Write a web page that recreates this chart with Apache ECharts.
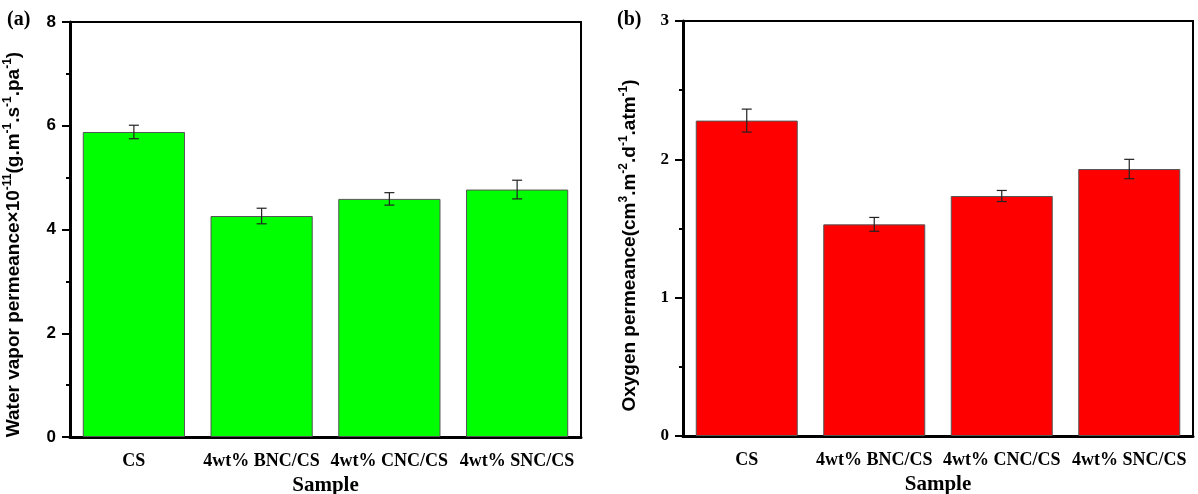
<!DOCTYPE html>
<html>
<head>
<meta charset="utf-8">
<script src="https://cdn.jsdelivr.net/npm/echarts@6/dist/echarts.min.js"></script>
<style>
  html,body{margin:0;padding:0;background:#fff;}
  #chart{width:1198px;height:494px;}
</style>
</head>
<body>
<div id="chart"></div>
<script>
  // samples + values
  var samples = ['CS', '4wt% BNC/CS', '4wt% CNC/CS', '4wt% SNC/CS']
  var wvpValues = [5.88, 4.26, 4.59, 4.77]
  var wvpErrors = [0.13, 0.15, 0.12, 0.18]
  var oxyValues = [2.28, 1.53, 1.735, 1.93]
  var oxyErrors = [0.083, 0.05, 0.04, 0.07]

  var sans = '"Liberation Sans", Arial, sans-serif'
  var serif = '"Liberation Serif", "Times New Roman", serif'

  var myChart = echarts.init(document.getElementById('chart'))

  function errBars(api) {
    var i = api.value(0)
    var lo = api.coord([i, api.value(1)])
    var hi = api.coord([i, api.value(2)])
    var cap = 5
    var st = {stroke: '#222', lineWidth: 1.2}
    return {
      type: 'group',
      children: [
        {type: 'line', shape: {x1: hi[0], y1: hi[1], x2: lo[0], y2: lo[1]}, style: st},
        {type: 'line', shape: {x1: hi[0] - cap, y1: hi[1], x2: hi[0] + cap, y2: hi[1]}, style: st},
        {type: 'line', shape: {x1: lo[0] - cap, y1: lo[1], x2: lo[0] + cap, y2: lo[1]}, style: st}
      ]
    }
  }

  function errData(vals, errs) {
    return vals.map(function (v, i) { return [i, v - errs[i], v + errs[i]] })
  }

  var supRich = {
    n: {fontFamily: sans, fontWeight: 'bold', fontSize: 19, lineHeight: 24, color: '#000'},
    s: {fontFamily: sans, fontWeight: 'bold', fontSize: 12, lineHeight: 24, verticalAlign: 'top', padding: [0, 0, 9, 0], color: '#000'}
  }

  function xAx(idx) {
    return {
      type: 'category', gridIndex: idx, data: samples,
      axisLine: {lineStyle: {color: '#000', width: 3}},
      axisTick: {show: false},
      axisLabel: {interval: 0, fontFamily: serif, fontWeight: 'bold', fontSize: 18, color: '#000', margin: 15},
      name: 'Sample', nameLocation: 'middle', nameGap: 38,
      nameTextStyle: {fontFamily: serif, fontWeight: 'bold', fontSize: 21, color: '#000'}
    }
  }

  var options = {
    backgroundColor: '#fff',
    animation: false,
    graphic: [
      {type: 'text', left: 7, top: 10, style: {text: '(a)', font: 'bold 20px ' + serif, fill: '#000'}},
      {type: 'text', left: 617, top: 10, style: {text: '(b)', font: 'bold 20px ' + serif, fill: '#000'}}
    ],
    grid: [
      {left: 70, top: 22, width: 511, height: 415, show: true, borderColor: '#000', borderWidth: 2, outerBoundsMode: 'none'},
      {left: 683, top: 21, width: 510, height: 415, show: true, borderColor: '#000', borderWidth: 2, outerBoundsMode: 'none'}
    ],
    xAxis: [xAx(0), xAx(1)],
    yAxis: [
      {
        type: 'value', gridIndex: 0, min: 0, max: 8, interval: 2,
        splitLine: {show: false},
        axisLine: {show: true, lineStyle: {color: '#000', width: 3}},
        axisTick: {show: true, length: 8, lineStyle: {color: '#000', width: 2}},
        minorTick: {show: true, splitNumber: 2, length: 4, lineStyle: {color: '#000', width: 2}},
        axisLabel: {fontFamily: sans, fontWeight: 'bold', fontSize: 17, color: '#000', margin: 14},
        name: '{n|Water vapor permeance×10}{s|-11}{n|(g.m}{s|-1}{n|.s}{s|-1}{n|.pa}{s|-1}{n|)}',
        nameLocation: 'middle', nameGap: 44,
        nameTextStyle: {rich: supRich, padding: [0, 30, 0, 0]}
      },
      {
        type: 'value', gridIndex: 1, min: 0, max: 3, interval: 1,
        splitLine: {show: false},
        axisLine: {show: true, lineStyle: {color: '#000', width: 3}},
        axisTick: {show: true, length: 8, lineStyle: {color: '#000', width: 2}},
        minorTick: {show: true, splitNumber: 2, length: 4, lineStyle: {color: '#000', width: 2}},
        axisLabel: {fontFamily: serif, fontWeight: 'bold', fontSize: 17, color: '#000', margin: 14},
        name: '{n|Oxygen permeance(cm}{s|3}{n|.m}{s|-2}{n|.d}{s|-1}{n|.atm}{s|-1}{n|)}',
        nameLocation: 'middle', nameGap: 41,
        nameTextStyle: {rich: supRich, padding: [0, 34, 0, 0]}
      }
    ],
    series: [
      {
        type: 'bar', xAxisIndex: 0, yAxisIndex: 0, data: wvpValues, barWidth: '80%',
        itemStyle: {color: '#00ff00', borderColor: '#555', borderWidth: 1}
      },
      {
        type: 'custom', xAxisIndex: 0, yAxisIndex: 0, data: errData(wvpValues, wvpErrors),
        renderItem: function (params, api) { return errBars(api) }, z: 5
      },
      {
        type: 'bar', xAxisIndex: 1, yAxisIndex: 1, data: oxyValues, barWidth: '80%',
        itemStyle: {color: '#ff0000', borderColor: '#555', borderWidth: 1}
      },
      {
        type: 'custom', xAxisIndex: 1, yAxisIndex: 1, data: errData(oxyValues, oxyErrors),
        renderItem: function (params, api) { return errBars(api) }, z: 5
      }
    ]
  }
  myChart.setOption(options)
</script>
</body>
</html>
